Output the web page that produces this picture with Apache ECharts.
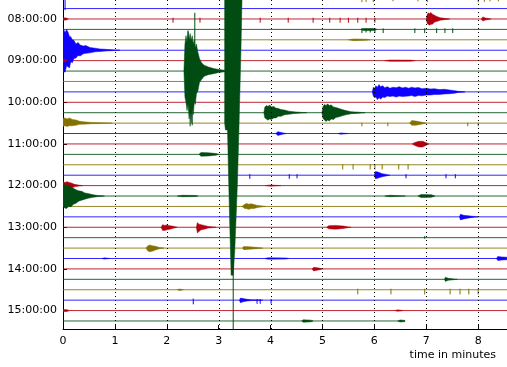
<!DOCTYPE html>
<html><head><meta charset="utf-8">
<script src="https://cdn.jsdelivr.net/npm/echarts@6/dist/echarts.min.js"></script>
<style>html,body{margin:0;padding:0;background:#fff}#c{width:507px;height:367px}</style>
</head><body><div id="c"></div>
<script>
// ---- DATA ----
const rowTimes = ['07:30','07:45','08:00','08:15','08:30','08:45','09:00','09:15','09:30','09:45',
  '10:00','10:15','10:30','10:45','11:00','11:15','11:30','11:45','12:00','12:15','12:30','12:45',
  '13:00','13:15','13:30','13:45','14:00','14:15','14:30','14:45','15:00','15:15'];
const hourLabels = ['08:00:00','09:00:00','10:00:00','11:00:00','12:00:00','13:00:00','14:00:00','15:00:00'];
const minuteTicks = [0,1,2,3,4,5,6,7,8];
const rowLengthMinutes = 15;
const lastRowEndMinutes = 6.59;

// envelopes: [minute, up, down] in units of row spacing
const env_0800_a = [[0,0.12,0.12],[0.06,0.1,0.1],[0.1,0,0]];
const env_0800_b = [[7.0,0,0],[7.02,0.45,0.45],[7.04,0.6,0.5],[7.06,0.5,0.6],[7.09,0.62,0.5],[7.12,0.45,0.5],[7.16,0.35,0.3],[7.2,0.25,0.25],[7.27,0.12,0.12],[7.38,0.04,0.04],[7.45,0,0]];
const env_0800_c = [[8.06,0,0],[8.09,0.2,0.2],[8.14,0.1,0.1],[8.22,0.02,0.02],[8.25,0,0]];
const env_0815 = [[5.74,0,0],[5.78,0.08,0.1],[6.0,0.08,0.1],[6.05,0,0]];
const env_0830 = [[5.5,0,0],[5.6,0.08,0.08],[5.85,0.05,0.05],[5.92,0,0]];
const env_0845 = [[0,2.14,2.08],[0.04,1.7,2.1],[0.07,2.0,1.5],[0.1,1.7,1.6],[0.125,1.3,1.7],[0.15,1.3,1.1],[0.18,1.0,1.2],[0.21,0.95,0.8],[0.25,0.6,0.75],[0.29,0.75,0.5],[0.33,0.5,0.55],[0.39,0.4,0.35],[0.44,0.45,0.3],[0.52,0.25,0.25],[0.62,0.2,0.15],[0.71,0.12,0.12],[0.87,0.07,0.06],[1.0,0.03,0.03],[1.1,0,0]];
const env_0900_a = [[0,0.1,0.1],[0.05,0.08,0.08],[0.1,0,0]];
const env_0900_b = [[6.2,0,0],[6.3,0.06,0.06],[6.7,0.05,0.05],[6.78,0,0]];
const env_0915 = [[2.33,0,0],[2.35,2.6,2.5],[2.37,3.4,3.0],[2.39,2.8,3.8],[2.41,3.8,3.2],[2.43,3.0,4.6],[2.45,3.6,3.9],[2.47,2.9,5.0],[2.49,3.4,3.6],[2.51,2.6,4.2],[2.53,3.0,3.0],[2.55,2.2,3.2],[2.57,2.6,2.2],[2.6,1.8,1.9],[2.63,1.2,1.1],[2.67,0.8,0.8],[2.72,0.55,0.5],[2.8,0.4,0.35],[2.9,0.25,0.25],[3.0,0.15,0.15],[3.15,0.05,0.05],[3.2,0,0]];
const env_0945 = [[5.96,0,0],[5.98,0.45,0.4],[6.0,0.3,0.55],[6.03,0.6,0.5],[6.06,0.45,0.75],[6.09,0.7,0.55],[6.12,0.5,0.7],[6.16,0.6,0.5],[6.2,0.4,0.55],[6.25,0.5,0.4],[6.3,0.35,0.45],[6.36,0.45,0.4],[6.42,0.4,0.5],[6.48,0.5,0.4],[6.54,0.38,0.45],[6.6,0.45,0.42],[6.66,0.35,0.4],[6.72,0.45,0.35],[6.78,0.38,0.45],[6.85,0.42,0.35],[6.92,0.3,0.38],[7.0,0.35,0.3],[7.08,0.28,0.3],[7.16,0.3,0.25],[7.25,0.22,0.25],[7.35,0.25,0.2],[7.45,0.18,0.18],[7.55,0.12,0.12],[7.62,0.05,0.05],[7.7,0.03,0.03],[7.75,0,0]];
const env_1015_big = [[3.115,12,1.0],[3.13,12,1.65],[3.17,12,1.65],[3.19,12,6],[3.21,12,10.1],[3.24,12,15.6],[3.28,12,15.6],[3.31,12,13.2],[3.335,12,10.1],[3.36,12,6.9],[3.39,12,1.65],[3.43,12,-6.2],[3.45,12,-11]];
const env_1015_a = [[3.87,0,0],[3.89,0.55,0.5],[3.92,0.7,0.6],[3.95,0.6,0.72],[3.98,0.75,0.6],[4.02,0.55,0.65],[4.06,0.6,0.5],[4.1,0.45,0.5],[4.15,0.4,0.35],[4.2,0.3,0.35],[4.27,0.25,0.2],[4.35,0.15,0.15],[4.45,0.08,0.08],[4.6,0.03,0.03],[4.7,0,0]];
const env_1015_b = [[4.99,0,0],[5.01,0.6,0.55],[5.04,0.8,0.7],[5.07,0.7,0.85],[5.1,0.85,0.7],[5.13,0.7,0.8],[5.17,0.75,0.6],[5.21,0.55,0.65],[5.26,0.5,0.45],[5.32,0.4,0.4],[5.38,0.3,0.3],[5.45,0.2,0.2],[5.55,0.1,0.1],[5.7,0.05,0.05],[5.82,0,0]];
const env_1030_a = [[0,0.45,0.3],[0.04,0.5,0.25],[0.08,0.4,0.32],[0.12,0.5,0.25],[0.18,0.35,0.25],[0.25,0.3,0.2],[0.32,0.18,0.12],[0.4,0.12,0.1],[0.55,0.07,0.06],[0.75,0.04,0.04],[0.9,0.02,0.02],[0.95,0,0]];
const env_1030_b = [[6.68,0,0],[6.72,0.25,0.2],[6.8,0.2,0.2],[6.95,0.05,0.05],[7.0,0,0]];
const env_1045_a = [[4.1,0,0],[4.14,0.18,0.18],[4.25,0.05,0.05],[4.3,0,0]];
const env_1045_b = [[5.3,0,0],[5.35,0.06,0.06],[5.5,0,0]];
const env_1100 = [[6.73,0,0],[6.78,0.15,0.15],[6.86,0.25,0.3],[6.93,0.26,0.3],[7.0,0.12,0.12],[7.05,0,0]];
const env_1115 = [[2.62,0,0],[2.66,0.18,0.18],[2.8,0.15,0.15],[2.95,0.08,0.08],[3.0,0,0]];
const env_1145 = [[6.0,0,0],[6.02,0.35,0.35],[6.07,0.3,0.28],[6.15,0.15,0.15],[6.25,0.05,0.05],[6.3,0,0]];
const env_1200_a = [[0,0.36,0.36],[0.04,0.3,0.38],[0.08,0.38,0.3],[0.12,0.3,0.32],[0.16,0.25,0.25],[0.22,0.12,0.12],[0.3,0.05,0.05],[0.38,0,0]];
const env_1200_b = [[3.9,0,0],[4.0,0.06,0.06],[4.2,0,0]];
const env_1215_a = [[0,1.0,1.0],[0.03,1.1,1.15],[0.07,0.95,1.2],[0.11,1.05,1.0],[0.15,0.85,1.05],[0.2,0.75,0.8],[0.25,0.6,0.7],[0.3,0.5,0.5],[0.36,0.45,0.4],[0.42,0.3,0.3],[0.5,0.22,0.2],[0.58,0.12,0.12],[0.66,0.06,0.06],[0.75,0.03,0.03],[0.8,0,0]];
const env_1215_b = [[2.2,0,0],[2.3,0.07,0.07],[2.55,0.05,0.05],[2.6,0,0]];
const env_1215_c = [[6.2,0,0],[6.3,0.07,0.07],[6.6,0,0]];
const env_1215_d = [[6.84,0,0],[6.9,0.15,0.15],[7.1,0.12,0.12],[7.17,0,0]];
const env_1230 = [[3.45,0,0],[3.5,0.2,0.2],[3.54,0.28,0.22],[3.58,0.22,0.28],[3.63,0.25,0.2],[3.68,0.18,0.2],[3.75,0.1,0.1],[3.85,0.03,0.03],[3.9,0,0]];
const env_1245 = [[7.64,0,0],[7.66,0.25,0.3],[7.72,0.15,0.2],[7.85,0.08,0.08],[7.95,0.02,0.02],[8.0,0,0]];
const env_1300_a = [[1.89,0,0],[1.92,0.25,0.3],[1.96,0.18,0.3],[2.0,0.22,0.25],[2.06,0.15,0.18],[2.12,0.1,0.1],[2.18,0.03,0.03],[2.2,0,0]];
const env_1300_b = [[2.57,0,0],[2.59,0.45,0.55],[2.62,0.3,0.4],[2.66,0.25,0.25],[2.72,0.18,0.18],[2.8,0.08,0.08],[2.9,0.03,0.03],[2.95,0,0]];
const env_1300_c = [[5.08,0,0],[5.12,0.15,0.15],[5.25,0.18,0.18],[5.4,0.12,0.12],[5.5,0.03,0.03],[5.55,0,0]];
const env_1330_a = [[1.6,0,0],[1.63,0.2,0.25],[1.67,0.3,0.36],[1.72,0.22,0.3],[1.78,0.18,0.18],[1.86,0.06,0.06],[1.95,0,0]];
const env_1330_b = [[3.46,0,0],[3.48,0.15,0.15],[3.6,0.12,0.1],[3.8,0.04,0.04],[3.85,0,0]];
const env_1345_a = [[0.75,0,0],[0.8,0.06,0.06],[0.9,0,0]];
const env_1345_b = [[3.89,0,0],[3.95,0.07,0.07],[4.3,0.05,0.05],[4.35,0,0]];
const env_1345_c = [[8.35,0,0],[8.38,0.2,0.2],[8.45,0.15,0.15],[8.6,0.1,0.1]];
const env_1400 = [[4.8,0,0],[4.83,0.15,0.2],[4.9,0.12,0.12],[4.98,0.03,0.03],[5.0,0,0]];
const env_1415 = [[7.35,0,0],[7.37,0.2,0.2],[7.42,0.1,0.1],[7.55,0.02,0.02],[7.6,0,0]];
const env_1430 = [[2.2,0,0],[2.25,0.07,0.07],[2.32,0,0]];
const env_1445 = [[3.4,0,0],[3.42,0.2,0.25],[3.47,0.15,0.15],[3.55,0.08,0.08],[3.62,0.04,0.04],[3.8,0.02,0.02],[3.85,0,0]];
const env_1500_a = [[0,0.1,0.1],[0.08,0.08,0.08],[0.12,0,0]];
const env_1500_b = [[6.4,0,0],[6.45,0.07,0.07],[6.55,0,0]];
const env_1515_a = [[4.6,0,0],[4.63,0.12,0.12],[4.78,0.08,0.08],[4.82,0,0]];
const env_1515_b = [[6.45,0,0],[6.5,0.1,0.1],[6.59,0.05,0.05]];

// spikes: [minute, up, down]
const spk_0730 = [[5.76,0.1,0.38],[5.84,0.1,0.35],[5.98,0.1,0.38],[6.36,0.1,0.3],[6.84,0.1,0.3],[7.02,0.1,0.38],[8.0,0.1,0.4],[8.12,0.1,0.35],[8.23,0.1,0.3],[8.39,0.1,0.3]];
const spk_0745 = [[0.04,1.2,0.15]];
const spk_0800 = [[2.12,0.12,0.35],[2.64,0.12,0.35],[3.8,0.12,0.35],[4.34,0.12,0.35],[4.82,0.12,0.35],[5.14,0.12,0.35],[5.34,0.12,0.35],[5.5,0.12,0.35],[5.68,0.12,0.35],[5.84,0.12,0.35],[6.01,0.12,0.35]];
const spk_0815 = [[5.76,0.1,0.35],[5.84,0.1,0.3],[5.92,0.1,0.3],[6.01,0.1,0.35],[6.17,0.1,0.35],[6.78,0.1,0.35],[6.97,0.1,0.35],[7.2,0.1,0.35],[7.36,0.1,0.35],[7.51,0.1,0.35]];
const spk_0915 = [[2.54,5.6,0.5],[2.45,0.5,5.3],[2.49,0.5,5.2],[2.41,3.9,0.5]];
const spk_1015 = [[3.28,0,21]];
const spk_1030 = [[5.76,0.05,0.3],[6.26,0.05,0.3],[7.8,0.05,0.3],[8.0,0.05,0.3]];
const spk_1130 = [[5.39,0.05,0.45],[5.59,0.05,0.45],[5.92,0.05,0.45],[6.01,0.05,0.45],[6.15,0.05,0.45],[6.47,0.05,0.45],[6.65,0.05,0.45]];
const spk_1145 = [[3.6,0.1,0.35],[4.36,0.1,0.35],[4.51,0.1,0.3],[6.61,0.1,0.3],[7.38,0.1,0.3],[7.56,0.1,0.3]];
const spk_1315 = [[6.97,0.15,0.1]];
const spk_1430 = [[5.68,0.1,0.45],[6.32,0.1,0.45],[6.97,0.1,0.45],[7.46,0.1,0.45],[7.65,0.1,0.45],[7.82,0.1,0.45],[8.0,0.1,0.45]];
const spk_1445 = [[2.51,0.15,0.4],[3.74,0.1,0.35],[3.8,0.1,0.35],[4.01,0.1,0.35]];

const envelopeSets = [
  ['08:00',env_0800_a],['08:00',env_0800_b],['08:00',env_0800_c],['08:15',env_0815],['08:30',env_0830],
  ['08:45',env_0845],['09:00',env_0900_a],['09:00',env_0900_b],['09:15',env_0915],['09:45',env_0945],
  ['10:15',env_1015_a],['10:15',env_1015_b],['10:30',env_1030_a],['10:30',env_1030_b],
  ['10:45',env_1045_a],['10:45',env_1045_b],['11:00',env_1100],['11:15',env_1115],['11:45',env_1145],
  ['12:00',env_1200_a],['12:00',env_1200_b],['12:15',env_1215_a],['12:15',env_1215_b],['12:15',env_1215_c],['12:15',env_1215_d],
  ['12:30',env_1230],['12:45',env_1245],['13:00',env_1300_a],['13:00',env_1300_b],['13:00',env_1300_c],
  ['13:30',env_1330_a],['13:30',env_1330_b],['13:45',env_1345_a],['13:45',env_1345_b],['13:45',env_1345_c],
  ['14:00',env_1400],['14:15',env_1415],['14:30',env_1430],['14:45',env_1445],['15:00',env_1500_a],['15:00',env_1500_b],
  ['15:15',env_1515_a],['15:15',env_1515_b],['10:15',env_1015_big]
];
const spikeSets = [
  ['07:30',spk_0730],['07:45',spk_0745],['08:00',spk_0800],['08:15',spk_0815],['09:15',spk_0915],['10:15',spk_1015],
  ['10:30',spk_1030],['11:30',spk_1130],['11:45',spk_1145],['13:15',spk_1315],['14:30',spk_1430],['14:45',spk_1445]
];

// ---- STYLE ----
const traceColors = ['#B2000F','#004C12','#847200','#0E01FF']; // red, green, olive, blue
const colorOf = r => traceColors[(r + 2) % 4];
const FONT = 'DejaVu Sans';
const Y_MIN = 0.177, Y_MAX = 31.77, X_MAX = 8.556;

const rowOf = t => rowTimes.indexOf(t);
const hourRows = hourLabels.map(l => rowOf(l.slice(0,5)));

const series = [];
rowTimes.forEach((t, r) => {
  const end = (r === rowTimes.length - 1) ? lastRowEndMinutes : rowLengthMinutes;
  series.push({
    type: 'line', data: [[0, r], [end, r]], symbol: 'none', silent: true,
    lineStyle: { color: colorOf(r), width: 1, opacity: 0.85 }, clip: true, z: 2
  });
});
const envItems = envelopeSets.map(([t, env], i) => [env[0][0], rowOf(t), i]);
series.push({
  type: 'custom', clip: true, silent: true, z: 3,
  encode: { x: 0, y: 1 },
  data: envItems,
  renderItem: (params, api) => {
    const [t, env] = envelopeSets[params.dataIndex];
    const r = rowOf(t);
    const top = env.map(p => api.coord([p[0], r - p[1]]));
    const bot = env.slice().reverse().map(p => api.coord([p[0], r + p[2]]));
    const c = colorOf(r);
    return { type: 'polygon', shape: { points: top.concat(bot) },
      style: { fill: c, stroke: c, lineWidth: 0.5 } };
  }
});
const spikeItems = [];
spikeSets.forEach(([t, arr]) => arr.forEach(s => spikeItems.push([s[0], rowOf(t), s[1], s[2]])));
series.push({
  type: 'custom', clip: true, silent: true, z: 4,
  encode: { x: 0, y: 1 },
  data: spikeItems,
  renderItem: (params, api) => {
    const x = api.value(0), r = api.value(1), up = api.value(2), dn = api.value(3);
    const p1 = api.coord([x, r - up]), p2 = api.coord([x, r + dn]);
    return { type: 'line', shape: { x1: p1[0], y1: p1[1], x2: p2[0], y2: p2[1] },
      style: { stroke: colorOf(r), lineWidth: 1 } };
  }
});
// dotted minute grid drawn above traces (as matplotlib does)
series.push({
  type: 'custom', clip: true, silent: true, z: 10,
  encode: { x: 0 },
  data: minuteTicks.filter(m => m > 0).map(m => [m]),
  renderItem: (params, api) => {
    const m = api.value(0);
    const p1 = api.coord([m, Y_MIN]), p2 = api.coord([m, Y_MAX]);
    const x = Math.round(p1[0]) + 0.5;
    return { type: 'line', shape: { x1: x, y1: p1[1], x2: x, y2: p2[1] },
      style: { stroke: '#000', lineWidth: 1, lineDash: [1, 3] } };
  }
});

const chart = echarts.init(document.getElementById('c'), null, { renderer: 'canvas' });
chart.setOption({
  animation: false,
  backgroundColor: '#fff',
  grid: { left: 63, right: 0, top: 0, bottom: 38, containLabel: false },
  xAxis: {
    type: 'value', min: 0, max: X_MAX, interval: 1,
    axisLine: { show: true, onZero: false, lineStyle: { color: '#000', width: 1 } },
    axisTick: { show: true, inside: true, length: 4, lineStyle: { color: '#000' } },
    axisLabel: { color: '#000', fontFamily: FONT, fontSize: 11, margin: 7, showMaxLabel: false },
    splitLine: { show: false }
  },
  yAxis: {
    type: 'value', inverse: true, min: Y_MIN, max: Y_MAX,
    axisLine: { show: true, onZero: false, lineStyle: { color: '#000', width: 1 } },
    axisTick: { show: true, inside: true, length: 4, customValues: hourRows, lineStyle: { color: '#000' } },
    axisLabel: { color: '#000', fontFamily: FONT, fontSize: 11, margin: 6, customValues: hourRows,
      formatter: v => hourLabels[hourRows.indexOf(Math.round(v))] || '' },
    splitLine: { show: false }
  },
  graphic: [{
    type: 'text', silent: true,
    style: { text: 'time in minutes', x: 496, y: 355, align: 'right', verticalAlign: 'middle',
      font: '11px "DejaVu Sans"', fill: '#000' }
  }],
  series: series
});
</script></body></html>
